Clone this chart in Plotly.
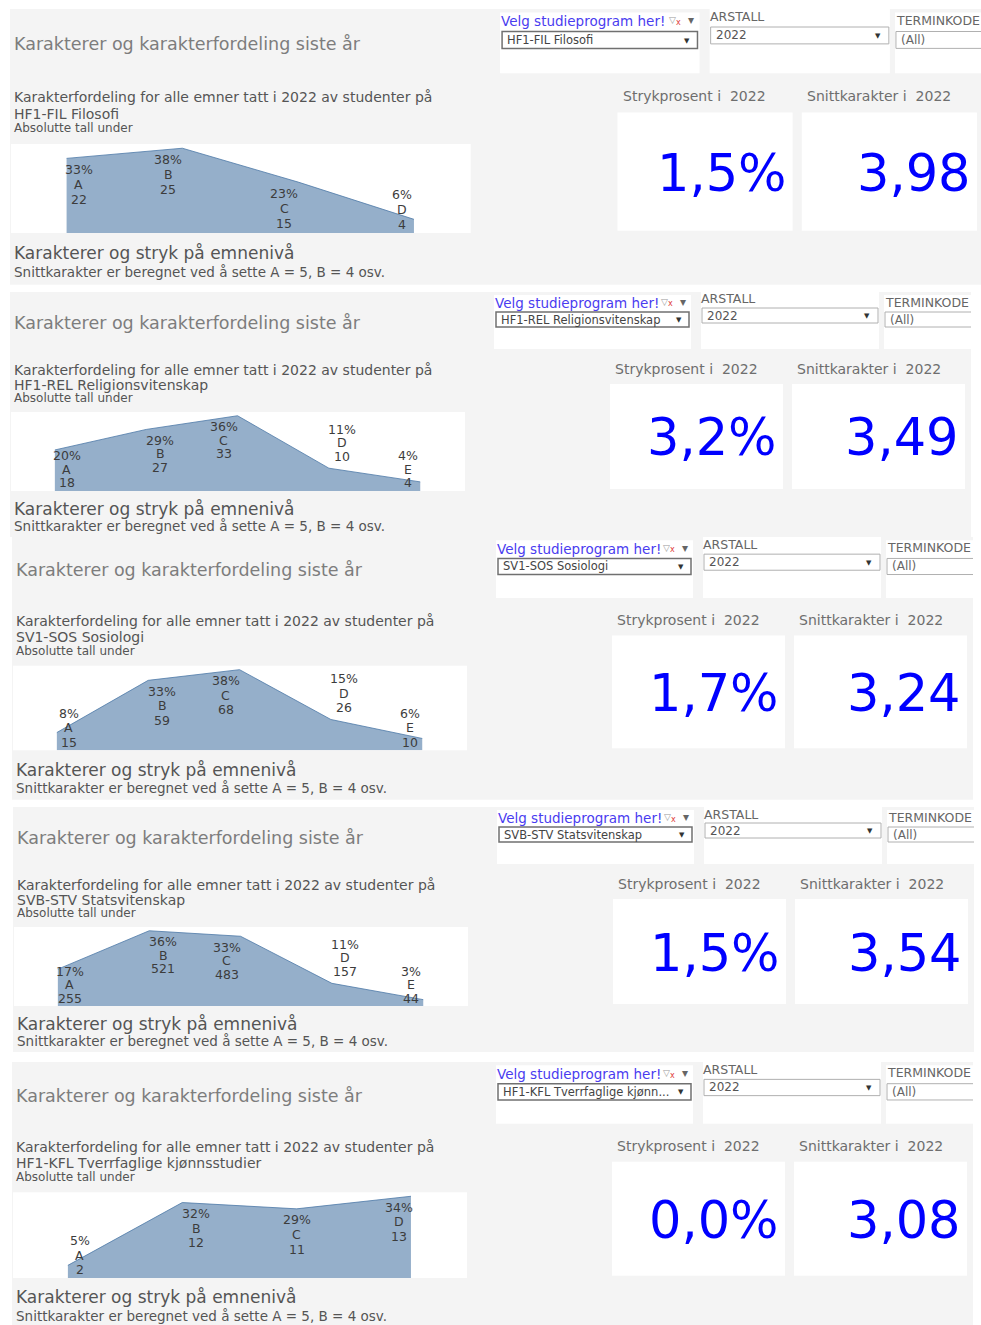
import plotly.graph_objects as go

W, H = 981, 1325
FONT = "DejaVu Sans"

# ---------------- data ----------------
YEAR = 2022
PROGRAMS = [
    "HF1-FIL Filosofi",
    "HF1-REL Religionsvitenskap",
    "SV1-SOS Sosiologi",
    "SVB-STV Statsvitenskap",
    "HF1-KFL Tverrfaglige kjønnsstudier",
]
# text as it shows (truncated) in the dropdown
DROPDOWN_TEXT = [
    "HF1-FIL Filosofi",
    "HF1-REL Religionsvitenskap",
    "SV1-SOS Sosiologi",
    "SVB-STV Statsvitenskap",
    "HF1-KFL Tverrfaglige kjønn...",
]
GRADES = [
    ["A", "B", "C", "D"],
    ["A", "B", "C", "D", "E"],
    ["A", "B", "C", "D", "E"],
    ["A", "B", "C", "D", "E"],
    ["A", "B", "C", "D"],
]
COUNTS = [
    [22, 25, 15, 4],
    [18, 27, 33, 10, 4],
    [15, 59, 68, 26, 10],
    [255, 521, 483, 157, 44],
    [2, 12, 11, 13],
]
FAIL_RATE = [1.5, 3.2, 1.7, 1.5, 0.0]
AVG_GRADE = [3.98, 3.49, 3.24, 3.54, 3.08]

# ---------------- styling ----------------
GRAY_BG = "#f4f4f4"
AREA_FILL = "rgba(78,121,167,0.6)"
AREA_LINE = "rgba(78,121,167,0.8)"
KPI_BLUE = "#0000ff"
LINK_BLUE = "#4a3cf0"

# the five dashboard crops are not pasted at quite the same size
PANELS = [
    dict(top=9, sy=1.125, left=10, sx=1.0125),
    dict(top=292, sy=1.0, left=10, sx=1.0),
    dict(top=537, sy=1.072, left=12, sx=1.0),
    dict(top=807, sy=1.0, left=13, sx=1.0),
    dict(top=1062, sy=1.085, left=12, sx=1.0),
]

shapes, annotations = [], []


def px(x):
    return x / W


def py(y):
    return 1 - y / H


def add_rect(x0, y0, x1, y1, fill, line="rgba(0,0,0,0)", width=0):
    shapes.append(dict(type="rect", xref="paper", yref="paper",
                       x0=px(x0), x1=px(x1), y0=py(y1), y1=py(y0),
                       fillcolor=fill, line=dict(color=line, width=width),
                       layer="below"))


def add_text(x, y, s, size, color, anchor="left"):
    annotations.append(dict(xref="paper", yref="paper", x=px(x), y=py(y),
                            text=s, showarrow=False, xanchor=anchor,
                            yanchor="middle", borderpad=0,
                            font=dict(family=FONT, size=size, color=color)))


def fmt(v, d):
    return f"{v:.{d}f}".replace(".", ",")


fig = go.Figure()
layout_axes = {}

for k, (g, prog, dd_text, grades, counts, fail, avg) in enumerate(
        zip(PANELS, PROGRAMS, DROPDOWN_TEXT, GRADES, COUNTS, FAIL_RATE, AVG_GRADE), start=1):

    def X(xb):
        return g["left"] + (xb - 10) * g["sx"]

    def Y(yb):
        return g["top"] + yb * g["sy"]

    # ── panel background and headings ─────────────────────
    add_rect(X(10), Y(0), X(971), Y(245), GRAY_BG)
    add_text(X(13), Y(31), "Karakterer og karakterfordeling siste år", 17.5, "#7d7d7d")
    add_text(X(13), Y(78), f"Karakterfordeling for alle emner tatt i {YEAR} av studenter på", 14, "#555555")
    add_text(X(13), Y(93), prog, 14, "#555555")
    add_text(X(13), Y(106), "Absolutte tall under", 12, "#555555")
    add_text(X(13), Y(217), "Karakterer og stryk på emnenivå", 17, "#555555")
    add_text(X(13), Y(234), "Snittkarakter er beregnet ved å sette A = 5, B = 4 osv.", 13.5, "#555555")

    # ── filter widgets ────────────────────────────────────
    add_rect(X(494), Y(3), X(691), Y(57), "white")
    add_text(X(494), Y(11), "Velg studieprogram her!", 13.5, LINK_BLUE)
    add_text(X(660), Y(10), "▽", 9, "#999999")
    add_text(X(667), Y(12), "x", 8, "#e04040")
    add_text(X(683), Y(10), "▾", 12, "#666666", anchor="center")
    add_rect(X(496), Y(20), X(689), Y(35), "white", "#707070", 1.5)
    add_text(X(500), Y(27.5), dd_text, 11.5, "#444444")
    add_text(X(679), Y(28), "▼", 7, "#333333", anchor="center")

    add_rect(X(701), Y(0), X(879), Y(57), "white")
    add_text(X(700), Y(7), "ARSTALL", 12.5, "#666666")
    add_rect(X(702), Y(16), X(878), Y(31), "white", "#b0b0b0", 1)
    add_text(X(706), Y(23.5), str(YEAR), 12, "#555555")
    add_text(X(867), Y(24), "▼", 7, "#333333", anchor="center")

    add_rect(X(884), Y(3), X(971), Y(57), "white")
    add_text(X(884), Y(10), "TERMINKODE", 12.5, "#666666")
    x_a, x_b, y_a, y_b = px(X(885)), px(X(971)), py(Y(20)), py(Y(35))
    shapes.append(dict(type="path", xref="paper", yref="paper", layer="below",
                       path=f"M {x_b},{y_a} L {x_a},{y_a} L {x_a},{y_b} L {x_b},{y_b}",
                       line=dict(color="#b0b0b0", width=1)))
    add_text(X(889), Y(27.5), "(All)", 12, "#666666")

    # ── KPI tiles ─────────────────────────────────────────
    add_text(X(614), Y(77), f"Strykprosent i\u00a0\u00a0{YEAR}", 14, "#6e6e6e")
    add_text(X(796), Y(77), f"Snittkarakter i\u00a0\u00a0{YEAR}", 14, "#6e6e6e")
    add_rect(X(610), Y(92), X(783), Y(197), "white")
    add_rect(X(792), Y(92), X(965), Y(197), "white")
    add_text(X(778), Y(146), fmt(fail, 1) + "%", 51, KPI_BLUE, anchor="right")
    add_text(X(960), Y(146), fmt(avg, 2), 51, KPI_BLUE, anchor="right")

    # ── grade distribution area chart ─────────────────────
    cx0, cx1, cy0, cy1 = X(11), X(465), Y(120), Y(199)
    add_rect(cx0, cy0, cx1, cy1, "white")

    xr = "x" if k == 1 else f"x{k}"
    yr = "y" if k == 1 else f"y{k}"
    total = sum(counts)
    shares = [c / total * 100 for c in counts]
    n = len(shares)
    ymax = max(shares) * 1.05

    fig.add_trace(go.Scatter(
        x=grades, y=shares, mode="lines", fill="tozeroy",
        fillcolor=AREA_FILL, line=dict(color=AREA_LINE, width=1),
        hoverinfo="skip", showlegend=False, xaxis=xr, yaxis=yr,
    ))

    layout_axes["xaxis" if k == 1 else f"xaxis{k}"] = dict(
        domain=[px(cx0), px(cx1)], range=[-0.48, n - 0.51], type="category",
        visible=False, fixedrange=True, anchor=yr)
    layout_axes["yaxis" if k == 1 else f"yaxis{k}"] = dict(
        domain=[py(cy1), py(cy0)], range=[0, ymax],
        visible=False, fixedrange=True, anchor=xr)

    # mark labels: placed under the point, lifted above it when there is no room
    ppp = (cy1 - cy0) / ymax
    ls = 13.5 * g["sy"]
    for i, (gr, c, s) in enumerate(zip(grades, counts, shares)):
        pt = cy1 - s * ppp
        first = pt + 11
        above = False
        if first + 2 * ls > cy1 - 8:
            if 0 < i < n - 1:
                first = pt - 12 - 2 * ls
                above = True
            else:
                first = cy1 - 8 - 2 * ls
        if i == 0:
            dx = 12
        elif i == n - 1:
            dx = -12
        else:
            left, right = shares[i - 1], shares[i + 1]
            if above:
                dx = 13 if right < left else -13
            elif left >= s and right >= s:
                dx = 0
            else:
                dx = -14 if left > right else 14
        for j, line in enumerate([f"{round(s)}%", gr, str(c)]):
            yc = first + j * ls
            annotations.append(dict(
                xref=xr, yref=yr, x=gr, y=s, text=line, showarrow=False,
                xanchor="center", yanchor="middle", xshift=dx, yshift=pt - yc,
                font=dict(family=FONT, size=12.5, color="#3c3c3c")))

fig.update_layout(
    width=W, height=H, autosize=False,
    margin=dict(l=0, r=0, t=0, b=0),
    paper_bgcolor="white", plot_bgcolor="rgba(0,0,0,0)",
    shapes=shapes, annotations=annotations,
    font=dict(family=FONT),
    showlegend=False,
    **layout_axes,
)

# the page's default 8px body margin would push the dashboard off the window
fig.write_html("out.html", config={"displayModeBar": False},
               post_script="document.body.style.margin='0';")
